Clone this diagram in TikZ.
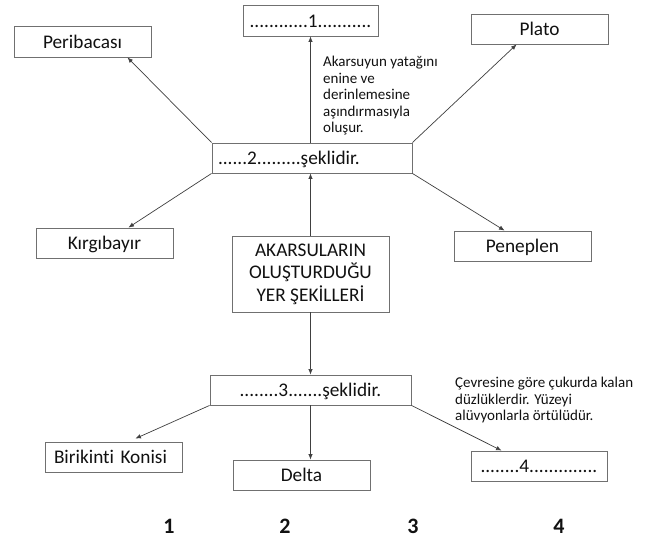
\documentclass[tikz,border=0pt]{standalone}
\usepackage{fontspec}
\setmainfont{Carlito}[Ligatures={NoCommon}]
\usetikzlibrary{arrows.meta,calc}
\definecolor{boxline}{HTML}{707070}
\definecolor{arrline}{HTML}{404040}
\definecolor{txt}{HTML}{111111}
\tikzset{
  box/.style={draw=boxline, line width=0.9pt, inner sep=0pt, minimum height=30pt,
    text=txt, font=\fontsize{19.3}{22.5}\selectfont},
  onebox/.style={box, text height=13.8pt, text depth=0pt},
  note/.style={inner sep=0pt, text=txt, align=left, font=\fontsize{15}{16.5}\selectfont},
  num/.style={inner sep=0pt, text=txt, font=\fontsize{22}{24}\selectfont\bfseries},
  arr/.style={draw=arrline, line width=0.7pt, -{Latex[length=5.5pt,width=4.5pt]}}
}
\begin{document}
\begin{tikzpicture}[x=1pt,y=-1pt]
\fill[white] (0,0) rectangle (654,540);
\useasboundingbox (0,0) rectangle (654,540);

\node[onebox, minimum width=135pt, minimum height=31pt] (b1) at (310.5,20.5) {............1...........};
\node[onebox, minimum width=137pt, minimum height=31pt] (peri) at (82.5,41.5) {Peribacası};
\node[onebox, minimum width=137pt] (plato) at (539.5,29) {Plato};
\node[onebox, minimum width=200pt, text width=188pt, align=left, inner xsep=6pt] (b2) at (312,158) {......2.........şeklidir.};
\node[onebox, minimum width=137pt] (kirg) at (104.5,243) {Kırgıbayır};
\node[onebox, minimum width=137pt] (pene) at (522.5,246) {Peneplen};
\node[box, minimum width=157pt, minimum height=76pt, align=center] (ctr) at (310.5,274) {AKARSULARIN\\OLUŞTURDUĞU\\YER ŞEKİLLERİ};
\node[onebox, minimum width=201pt] (b3) at (310.5,390) {........3.......şeklidir.};
\node[onebox, minimum width=137pt, text width=119pt, align=left, inner xsep=9pt] (birik) at (113.5,457) {Birikinti Konisi};
\node[onebox, minimum width=137pt] (delta) at (301.5,475) {Delta};
\node[onebox, minimum width=136pt] (b4) at (539,466) {........4..............};

\node[note, anchor=north west] (t1) at (323,56) {Akarsuyun yatağını\\enine ve\\derinlemesine\\aşındırmasıyla\\oluşur.};
\node[note, anchor=north west] (t2) at (455,377) {Çevresine göre çukurda kalan\\düzlüklerdir. Yüzeyi\\alüvyonlarla örtülüdür.};

\node[num] (n1) at (169,526) {1};
\node[num] (n2) at (285,526) {2};
\node[num] (n3) at (413,526) {3};
\node[num] (n4) at (559,526) {4};

\draw[arr] (b2.north -| b1.south) -- (b1.south);
\draw[arr] (b2.north west) -- ($(peri.south east)+(-24,0)$);
\draw[arr] (b2.north east) -- ($(plato.south west)+(46,0)$);
\draw[arr] (b2.south west) -- ($(kirg.north east)+(-45,0)$);
\draw[arr] (b2.south east) -- ($(pene.north west)+(51,0)$);
\draw[arr] (ctr.north) -- (ctr.north |- b2.south);
\draw[arr] (ctr.south) -- (ctr.south |- b3.north);
\draw[arr] (b3.south west) -- ($(birik.north east)+(-47,-3)$);
\draw[arr] (b3.south) -- (b3.south |- delta.north);
\draw[arr] (b3.south east) -- ($(b4.north west)+(31,0)$);
\end{tikzpicture}
\end{document}
